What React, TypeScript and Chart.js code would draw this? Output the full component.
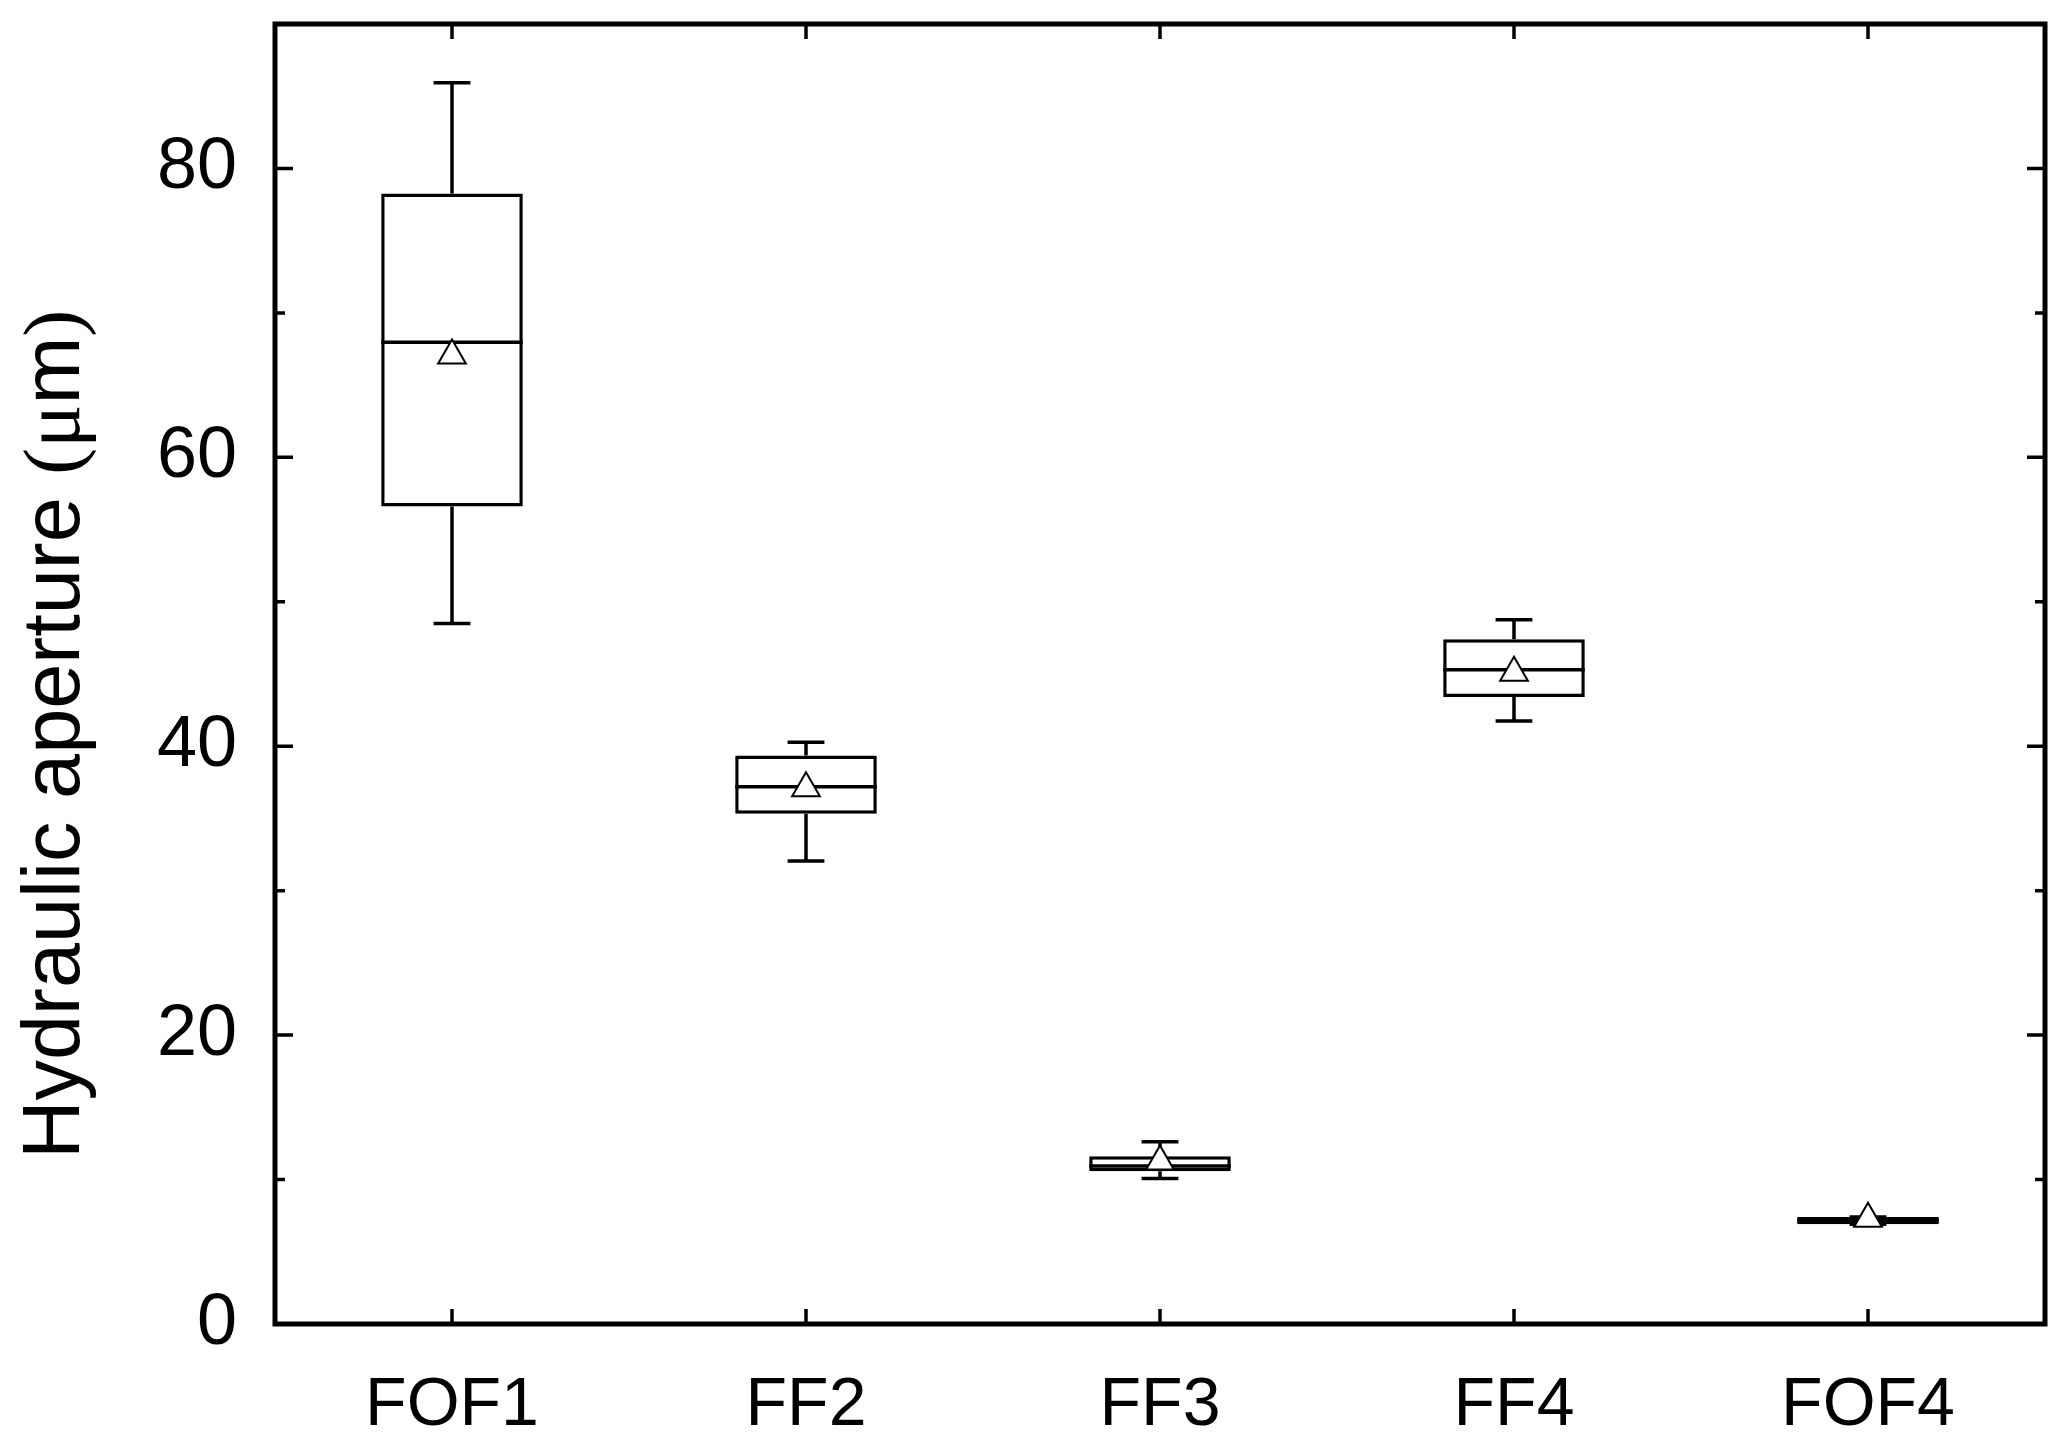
import React, { useEffect, useRef } from 'react';
import { Chart, registerables } from 'chart.js';

Chart.register(...registerables);

// ---- data ----
const categories = ['FOF1', 'FF2', 'FF3', 'FF4', 'FOF4'];
const whiskerLow = [48.5, 32.06, 10.08, 41.74, 6.91];
const q1 = [56.6, 35.32, 10.58, 43.41, 6.91];
const median = [67.97, 37.19, 10.93, 45.3, 7.16];
const q3 = [78.27, 39.36, 11.62, 47.41, 7.41];
const whiskerHigh = [85.94, 40.28, 12.61, 48.75, 7.41];
const means = [67.05, 37.09, 11.25, 45.08, 7.29];

const yMajorTicks = [0, 20, 40, 60, 80];
const yMinorTicks = [10, 30, 50, 70];
const yMin = 0;
const yMax = 90;

const yTitleParts = [
  { text: 'Hydraulic aperture ', serif: false },
  { text: '(', serif: true },
  { text: 'μ', serif: true },
  { text: 'm', serif: false },
  { text: ')', serif: true },
];

const SANS = '"Liberation Sans", Arial, sans-serif';
const SERIF = '"Liberation Serif", "Times New Roman", serif';

const boxPlugin = {
  id: 'boxExtras',
  beforeDatasetsDraw(chart: any) {
    const { ctx } = chart;
    const y = chart.scales.y;
    const meta = chart.getDatasetMeta(0);
    ctx.save();
    ctx.strokeStyle = '#000';
    ctx.lineWidth = 3.5;
    ctx.lineCap = 'butt';
    meta.data.forEach((el: any, i: number) => {
      const cx = el.x;
      const half = (el.width * 0.26) / 2;
      const yH = y.getPixelForValue(whiskerHigh[i]);
      const yQ3 = y.getPixelForValue(q3[i]);
      const yQ1 = y.getPixelForValue(q1[i]);
      const yL = y.getPixelForValue(whiskerLow[i]);
      ctx.beginPath();
      ctx.moveTo(cx, yQ3);
      ctx.lineTo(cx, yH);
      ctx.moveTo(cx - half, yH);
      ctx.lineTo(cx + half, yH);
      ctx.moveTo(cx, yQ1);
      ctx.lineTo(cx, yL);
      ctx.moveTo(cx - half, yL);
      ctx.lineTo(cx + half, yL);
      ctx.stroke();
    });
    ctx.restore();
  },
  afterDatasetDraw(chart: any, args: any) {
    if (args.index !== 0) return;
    const { ctx } = chart;
    const y = chart.scales.y;
    const meta = chart.getDatasetMeta(0);
    ctx.save();
    ctx.strokeStyle = '#000';
    ctx.lineWidth = 3.5;
    meta.data.forEach((el: any, i: number) => {
      const py = y.getPixelForValue(median[i]);
      ctx.beginPath();
      ctx.moveTo(el.x - el.width / 2, py);
      ctx.lineTo(el.x + el.width / 2, py);
      ctx.stroke();
    });
    ctx.restore();
  },
  afterDraw(chart: any) {
    const { ctx, chartArea } = chart;
    const { left, right, top, bottom } = chartArea;
    const x = chart.scales.x;
    const y = chart.scales.y;
    ctx.save();
    ctx.strokeStyle = '#000';
    // frame
    ctx.lineWidth = 5;
    ctx.strokeRect(left, top, right - left, bottom - top);
    // ticks
    ctx.lineWidth = 3.5;
    ctx.beginPath();
    yMajorTicks.forEach((v) => {
      const py = y.getPixelForValue(v);
      ctx.moveTo(left, py);
      ctx.lineTo(left + 18, py);
      ctx.moveTo(right, py);
      ctx.lineTo(right - 18, py);
    });
    yMinorTicks.forEach((v) => {
      const py = y.getPixelForValue(v);
      ctx.moveTo(left, py);
      ctx.lineTo(left + 10, py);
      ctx.moveTo(right, py);
      ctx.lineTo(right - 10, py);
    });
    categories.forEach((_, i) => {
      const px = x.getPixelForValue(i);
      ctx.moveTo(px, bottom);
      ctx.lineTo(px, bottom - 15);
      ctx.moveTo(px, top);
      ctx.lineTo(px, top + 15);
    });
    ctx.stroke();

    // y axis title (mixed fonts)
    const size = 81;
    const sansFont = `${size}px ${SANS}`;
    const serifFont = `${size}px ${SERIF}`;
    let total = 0;
    const widths = yTitleParts.map((p) => {
      ctx.font = p.serif ? serifFont : sansFont;
      const w = ctx.measureText(p.text).width;
      total += w;
      return w;
    });
    const baseX = left - 196;
    const cy = top + (bottom - top) * 0.5465;
    ctx.translate(baseX, cy);
    ctx.rotate(-Math.PI / 2);
    ctx.fillStyle = '#000';
    ctx.textAlign = 'left';
    ctx.textBaseline = 'alphabetic';
    let cur = -total / 2;
    yTitleParts.forEach((p, i) => {
      ctx.font = p.serif ? serifFont : sansFont;
      ctx.fillText(p.text, cur, 0);
      cur += widths[i];
    });
    ctx.restore();
  },
};

export default function App() {
  const ref = useRef<HTMLCanvasElement | null>(null);
  useEffect(() => {
    if (!ref.current) return;
    const chart = new Chart(ref.current, {
      type: 'bar',
      data: {
        labels: categories,
        datasets: [
          {
            type: 'bar',
            label: 'IQR',
            data: categories.map((_, i) => [q1[i], q3[i]]) as any,
            backgroundColor: '#ffffff',
            borderColor: '#000000',
            borderWidth: 3.5,
            borderSkipped: false,
            barPercentage: 0.4,
            categoryPercentage: 1.0,
            order: 2,
          } as any,
          {
            type: 'line',
            label: 'Mean',
            data: means,
            showLine: false,
            pointStyle: 'triangle',
            pointRadius: 16,
            pointHoverRadius: 16,
            pointBackgroundColor: '#ffffff',
            pointBorderColor: '#000000',
            pointBorderWidth: 2,
            borderColor: '#000000',
            backgroundColor: '#ffffff',
            order: 1,
          } as any,
        ],
      },
      options: {
        responsive: false,
        animation: false,
        devicePixelRatio: 1,
        layout: { padding: { left: 0, top: 24, right: 22, bottom: 0 } },
        plugins: {
          legend: { display: false },
          tooltip: { enabled: false },
          title: { display: false },
        },
        events: [],
        scales: {
          x: {
            type: 'category',
            offset: true,
            grid: { display: false, drawTicks: false },
            border: { display: false },
            ticks: {
              color: '#000',
              font: { family: SANS, size: 68 },
              padding: 41,
              maxRotation: 0,
              autoSkip: false,
            },
            afterFit: (s: any) => {
              s.height = 129;
              s.paddingLeft = 0;
              s.paddingRight = 0;
            },
          },
          y: {
            type: 'linear',
            min: yMin,
            max: yMax,
            grid: { display: false, drawTicks: false },
            border: { display: false },
            ticks: {
              color: '#000',
              font: { family: SANS, size: 72 },
              padding: 38,
            },
            afterBuildTicks: (s: any) => {
              s.ticks = yMajorTicks.map((v) => ({ value: v }));
            },
            afterFit: (s: any) => {
              s.width = 275;
              s.paddingTop = 0;
              s.paddingBottom = 0;
            },
          },
        },
      } as any,
      plugins: [boxPlugin],
    });
    return () => chart.destroy();
  }, []);

  return (
    <div
      style={{
        position: 'absolute',
        left: 0,
        top: 0,
        width: 2067,
        height: 1453,
        background: '#ffffff',
      }}
    >
      <canvas ref={ref} width={2067} height={1453} style={{ display: 'block' }} />
    </div>
  );
}
